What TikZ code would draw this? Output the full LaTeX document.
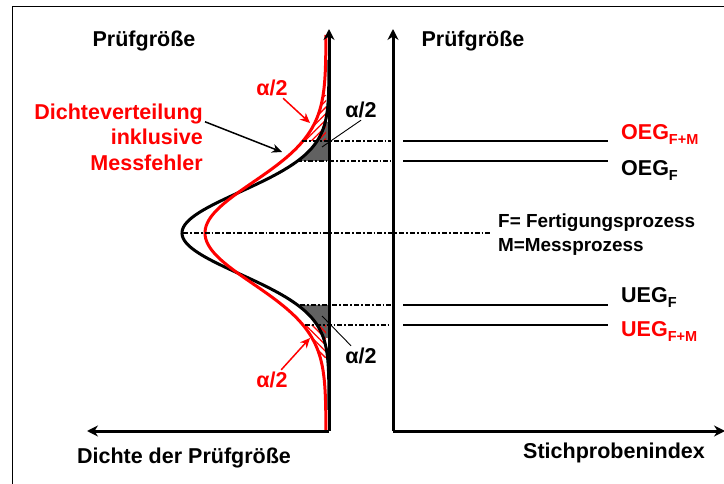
\documentclass[tikz,border=0pt]{standalone}
\usepackage{fontspec}
\setmainfont{Liberation Sans}
\usetikzlibrary{positioning,calc,arrows.meta,patterns.meta}

\newcommand{\grenz}[2]{#1\raisebox{-4.5pt}{\fontsize{14.5}{15}\selectfont #2}}

\begin{document}
\begin{tikzpicture}[
    x=1pt,
    y=-1pt,
    >={Stealth[length=11pt,width=11pt]},
    every node/.style={
        font=\fontsize{21.5}{25.5}\selectfont\bfseries,
        inner sep=2pt
    },
    axis/.style={
        ->,
        line width=3pt
    },
    curveF/.style={
        line width=3pt
    },
    curveFM/.style={
        red,
        line width=3pt
    },
    limit/.style={
        line width=2.2pt
    },
    aux/.style={
        line width=1.7pt,
        dash pattern=on 5pt off 2pt on 1.8pt off 2pt
    },
    tailF/.style={
        fill=black!62
    },
    pointer/.style={
        ->,
        line width=1.5pt,
        >={Stealth[length=10pt,width=9pt]}
    }
]

\useasboundingbox (0,0) rectangle (724,484);
\draw[line width=1pt] (12,7) rectangle (760,520);

%%%%%%%%%%%%%%%%%%%%%%%%%%%%%%%%%%%%%%%%%%%%%%%%%%%%
%% Tails (alpha/2 areas)
%%%%%%%%%%%%%%%%%%%%%%%%%%%%%%%%%%%%%%%%%%%%%%%%%%%%

\fill[tailF] plot[variable=\t,domain=122:161,samples=30]
    ({329-147*exp(-0.5*((\t-233)/41)^2)},\t) -- (329,161) -- (329,122) -- cycle;
\fill[tailF] plot[variable=\t,domain=305:338,samples=30]
    ({329-147*exp(-0.5*((\t-233)/41)^2)},\t) -- (329,338) -- (329,305) -- cycle;

\fill[pattern={Lines[angle=45,distance=4.5pt,line width=1.3pt]},pattern color=red]
    plot[variable=\t,domain=95:141,samples=30]
    ({326-121*exp(-0.5*((\t-233)/50.5)^2)},\t) -- (326,141) -- (326,95) -- cycle;
\fill[pattern={Lines[angle=-45,distance=4.5pt,line width=1.3pt]},pattern color=red]
    plot[variable=\t,domain=325:358,samples=30]
    ({326-121*exp(-0.5*((\t-233)/50.5)^2)},\t) -- (326,358) -- (326,325) -- cycle;

%%%%%%%%%%%%%%%%%%%%%%%%%%%%%%%%%%%%%%%%%%%%%%%%%%%%
%% Densities
%%%%%%%%%%%%%%%%%%%%%%%%%%%%%%%%%%%%%%%%%%%%%%%%%%%%

\draw[curveF] plot[variable=\t,domain=60:410,samples=150]
    ({329-147*exp(-0.5*((\t-233)/41)^2)},\t);
\draw[curveFM] plot[variable=\t,domain=35:430,samples=150]
    ({326-121*exp(-0.5*((\t-233)/50.5)^2)},\t);

%%%%%%%%%%%%%%%%%%%%%%%%%%%%%%%%%%%%%%%%%%%%%%%%%%%%
%% Auxiliary lines
%%%%%%%%%%%%%%%%%%%%%%%%%%%%%%%%%%%%%%%%%%%%%%%%%%%%

\coordinate (oegfmL) at (302,141);
\coordinate (oegfL)  at (297,161);
\coordinate (meanL)  at (183,233);
\coordinate (uegfL)  at (300,305);
\coordinate (uegfmL) at (305,325);

\draw[aux] (oegfmL) -- (391,141);
\draw[aux] (oegfL)  -- (391,161);
\draw[aux] (meanL)  -- (490,233);
\draw[aux] (uegfL)  -- (391,305);
\draw[aux] (uegfmL) -- (391,325);

%%%%%%%%%%%%%%%%%%%%%%%%%%%%%%%%%%%%%%%%%%%%%%%%%%%%
%% Axes
%%%%%%%%%%%%%%%%%%%%%%%%%%%%%%%%%%%%%%%%%%%%%%%%%%%%

\coordinate (originL) at (329,431);
\coordinate (originR) at (393,431);

\draw[axis] (originL) -- (329,29);
\draw[axis] (originL) -- (87,431);
\draw[axis] (originR) -- (393,29);
\draw[axis] (originR) -- (725,431);

\node[anchor=base] (yaxisL) at (144,47) {Prüfgröße};
\node[anchor=base] (yaxisR) at (473,47) {Prüfgröße};
\node[anchor=base] (xaxisL) at (184,463) {Dichte der Prüfgröße};
\node[anchor=base] (xaxisR) at (614,458) {Stichprobenindex};

%%%%%%%%%%%%%%%%%%%%%%%%%%%%%%%%%%%%%%%%%%%%%%%%%%%%
%% Limits
%%%%%%%%%%%%%%%%%%%%%%%%%%%%%%%%%%%%%%%%%%%%%%%%%%%%

\draw[limit] (403,141) -- (608,141);
\draw[limit] (403,161) -- (608,161);
\draw[limit] (403,305) -- (608,305);
\draw[limit] (403,325) -- (608,325);

\node[anchor=base west,red] (oegfm) at (619,140) {\grenz{OEG}{F+M}};
\node[anchor=base west] (oegf) at (619,176) {\grenz{OEG}{F}};
\node[anchor=base west] (uegf) at (619,303) {\grenz{UEG}{F}};
\node[anchor=base west,red] (uegfm) at (619,337) {\grenz{UEG}{F+M}};

\node[anchor=base west,font=\fontsize{18.9}{24}\selectfont\bfseries] (legendF)
    at (496,228) {F= Fertigungsprozess};
\node[anchor=base west,font=\fontsize{18.9}{24}\selectfont\bfseries] (legendM)
    at (496,252) {M=Messprozess};

%%%%%%%%%%%%%%%%%%%%%%%%%%%%%%%%%%%%%%%%%%%%%%%%%%%%
%% alpha/2 labels
%%%%%%%%%%%%%%%%%%%%%%%%%%%%%%%%%%%%%%%%%%%%%%%%%%%%

\node[red] (alphaFMtop) at (272,88) {α/2};
\node (alphaFtop) at (361,110) {α/2};
\node (alphaFbot) at (361,356) {α/2};
\node[red] (alphaFMbot) at (272,380) {α/2};

\coordinate (tipFMtop) at (310,123);
\coordinate (tipFtop)  at (322,147);
\coordinate (tipFbot)  at (322,316);
\coordinate (tipFMbot) at (310,338);

\draw[pointer,red] (alphaFMtop) -- (tipFMtop);
\draw[line width=0.9pt] (alphaFtop.south) -- (tipFtop);
\draw[line width=0.9pt] (alphaFbot) -- (tipFbot);
\draw[pointer,red] (alphaFMbot) -- (tipFMbot);

%%%%%%%%%%%%%%%%%%%%%%%%%%%%%%%%%%%%%%%%%%%%%%%%%%%%
%% Density with measurement error
%%%%%%%%%%%%%%%%%%%%%%%%%%%%%%%%%%%%%%%%%%%%%%%%%%%%

\node[red,align=right,anchor=east] (messfehler) at (205,137)
    {Dichteverteilung\\inklusive\\Messfehler};

\coordinate (tipMess) at (282,152);
\draw[pointer] (messfehler.10) -- (tipMess);

\end{tikzpicture}
\end{document}
